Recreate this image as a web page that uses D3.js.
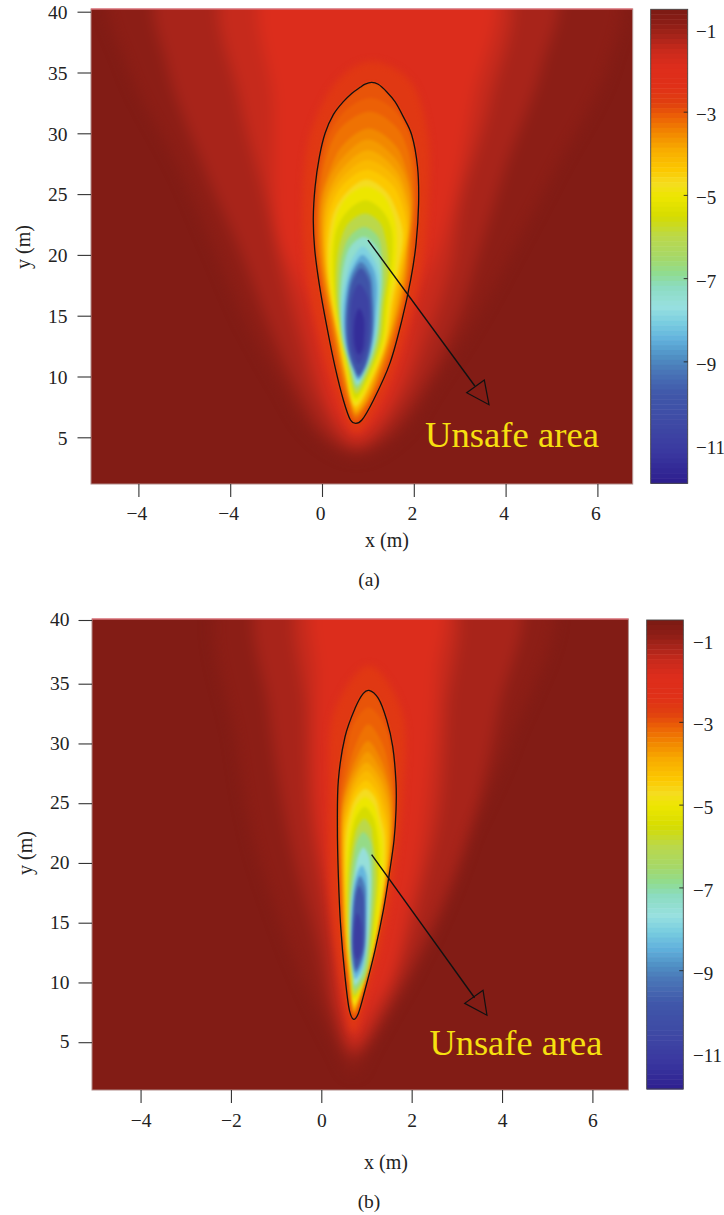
<!DOCTYPE html>
<html><head><meta charset="utf-8">
<script src="https://cdnjs.cloudflare.com/ajax/libs/d3/7.8.5/d3.min.js"></script>
<style>html,body{margin:0;padding:0;background:#fff}svg{display:block}text{font-family:"Liberation Serif",serif;fill:#222}</style>
</head><body><div id="chart"></div>
<script>
// Colour bar: value -> colour
const colorValues = [-0.54,-0.88,-1.2,-1.52,-1.92,-2.4,-2.8,-3.12,-3.52,-3.92,-4.4,-4.72,-5.04,-5.52,-6,-6.5,-6.89,-7.2,-7.69,-8.09,-8.49,-8.89,-9.2,-9.77,-10.57,-11.2,-11.85];
const colorHexes = ["#7b1a14","#8c1e16","#a8241a","#c82a1c","#dd2d1c","#e03018","#e0400f","#ec6006","#f28800","#f8ac00","#fcc800","#f5dc20","#ede600","#d6dc00","#bbd84a","#a6d868","#90dc90","#8cdcc0","#98e0e0","#78cce0","#60b0dc","#5090c4","#4a78b8","#4058aa","#3e48a4","#3a38a0","#2e2090"];
const backgroundValue = -0.68;
const boundaryValue = -3;
const colorbarTicks = [-1,-3,-5,-7,-9,-11];

const xTicks = [-4,-2,0,2,4,6];
const yTicks = [40,35,30,25,20,15,10,5];
const xLabelsA = ["\u22124","\u22124","0","2","4","6"];
const xLabelsB = ["\u22124","\u22122","0","2","4","6"];

// Contour bands: rows are [y, xLeft, xRight], tips are [y, x]
const levelsA = [-0.88,-1.2,-1.5,-1.9,-2.6,-3.12,-3.3,-3.52,-3.72,-3.92,-4.15,-4.4,-4.72,-5.04,-5.5,-6,-6.8,-7.4,-8,-8.6,-9.2,-10,-10.8,-11.5];
const bandsA = [
 [[42,-4.56,6.38],[35.48,-4.24,6.22],[27.25,-3.13,5.11],[20.4,-2.34,4.16],[14.92,-1.71,3.37],[9.44,-0.91,2.45],[5.32,-0.2,1.7],[3.4,0.75]],
 [[42,-3.53,5.03],[35.48,-3.37,4.79],[27.25,-2.58,4.0],[20.4,-1.79,3.44],[14.92,-1.23,2.97],[9.44,-0.6,2.26],[5.32,0.04,1.46],[3.95,0.75]],
 [[42,-2.1,4.0],[32.74,-1.79,3.68],[24.51,-1.23,3.05],[19.03,-0.91,2.81],[13.55,-0.52,2.33],[8.07,-0.04,1.7],[4.23,0.75]],
 [[42,-1.23,3.68],[32.74,-1.07,3.29],[21.77,-0.95,2.65],[16.29,-0.36,2.1],[10.81,-0.04,1.78],[6.69,0.27,1.31],[5.05,0.75]],
 [[35.9,1.07],[34.38,0.35,1.9],[30,-0.25,2.3],[24.51,-0.42,2.32],[19.03,-0.36,2.18],[13.55,-0.08,1.82],[8.61,0.31,1.35],[5.4,0.74]],
 [[32.9,1.06],[32,0.55,1.55],[30,0.17,1.9],[27.25,-0.03,2.03],[24.24,-0.11,2.05],[20.95,-0.13,1.98],[18.2,-0.03,1.9],[14.6,0.15,1.69],[11,0.34,1.42],[8,0.53,1.07],[6.4,0.73]],
 [[31.8,1.04],[30.5,0.42,1.62],[28.5,0.13,1.88],[25,-0.06,2.0],[21,-0.09,1.94],[18,0,1.86],[14.6,0.18,1.66],[11,0.37,1.38],[8,0.57,1.03],[6.6,0.73]],
 [[30.4,1.02],[29,0.45,1.6],[27,0.17,1.84],[24.5,-0.03,1.97],[21,-0.05,1.9],[18,0.04,1.82],[14.6,0.22,1.62],[11,0.4,1.33],[8,0.6,1.0],[6.8,0.73]],
 [[29.5,1.0],[28,0.45,1.58],[26,0.13,1.85],[24,0,1.94],[21,0,1.87],[18,0.07,1.79],[14.6,0.25,1.59],[11,0.43,1.3],[8,0.63,0.98],[6.95,0.73]],
 [[28.6,1.0],[27,0.42,1.6],[25,0.13,1.83],[23,0.03,1.92],[20,0.04,1.83],[17,0.14,1.7],[14,0.3,1.52],[11,0.46,1.27],[8.2,0.65,0.96],[7.1,0.73]],
 [[27.8,0.99],[26.4,0.45,1.58],[24.5,0.15,1.8],[22.5,0.06,1.88],[19.5,0.07,1.78],[16.5,0.18,1.62],[13.5,0.33,1.47],[10.8,0.48,1.23],[7.25,0.73]],
 [[27.0,0.98],[25.8,0.47,1.52],[24,0.2,1.75],[22,0.1,1.84],[19,0.1,1.72],[16,0.2,1.56],[13,0.36,1.42],[10.5,0.5,1.19],[7.45,0.73]],
 [[26.2,0.97],[25.2,0.55,1.4],[23.7,0.28,1.62],[21.8,0.16,1.76],[19,0.13,1.67],[16,0.23,1.51],[13,0.38,1.39],[10.5,0.51,1.16],[7.6,0.73]],
 [[25.6,0.97],[24.9,0.58,1.33],[23.5,0.34,1.53],[22,0.24,1.62],[19,0.16,1.6],[16,0.26,1.47],[13,0.41,1.36],[10.5,0.53,1.13],[7.85,0.73]],
 [[24.5,0.95],[23.7,0.58,1.3],[22.3,0.34,1.5],[20.4,0.25,1.54],[15.74,0.3,1.4],[13,0.43,1.32],[10.5,0.56,1.08],[8.2,0.73]],
 [[23.4,0.94],[22.7,0.6,1.25],[21.4,0.42,1.38],[19,0.31,1.45],[15.74,0.33,1.34],[13,0.46,1.27],[10.5,0.59,1.04],[8.6,0.75]],
 [[22.3,0.92],[21.5,0.6,1.22],[20,0.44,1.31],[17.66,0.37,1.34],[15.74,0.37,1.29],[13,0.43,1.21],[10.53,0.62,0.99],[9.02,0.75]],
 [[21.5,0.91],[20.7,0.62,1.18],[19.03,0.47,1.29],[15.74,0.4,1.26],[13,0.46,1.18],[10.81,0.62,0.99],[9.3,0.77]],
 [[20.7,0.89],[19.8,0.68,1.1],[18.48,0.55,1.24],[15.74,0.43,1.23],[13,0.48,1.15],[10.81,0.66,0.96],[9.57,0.77]],
 [[20.0,0.88],[19,0.68,1.1],[17.66,0.56,1.19],[14.92,0.48,1.16],[12.18,0.55,1.07],[10.6,0.68,0.94],[9.76,0.79]],
 [[19.4,0.85],[18.4,0.66,1.05],[16.5,0.55,1.11],[13.5,0.51,1.11],[11.5,0.6,1.0],[10.6,0.69,0.92],[9.9,0.79]],
 [[18.9,0.85],[18,0.68,1.02],[16.5,0.58,1.07],[14,0.54,1.09],[12,0.59,1.03],[10.8,0.69,0.93],[10.1,0.8]],
 [[17.6,0.81],[16.5,0.66,1.0],[14,0.62,1.02],[12.2,0.65,0.96],[11,0.8]],
 [[15.6,0.81],[14.8,0.72,0.91],[13,0.7,0.91],[12.2,0.74,0.88],[11.8,0.8]]
];
const levelsB = [-0.88,-1.2,-1.5,-1.9,-2.6,-3.12,-3.3,-3.52,-3.72,-3.92,-4.15,-4.4,-4.72,-5.04,-5.5,-6,-6.8,-7.6,-8.4,-9.2,-10,-11];
const bandsB = [
 [[42,-2.16,5.04],[30.01,-1.88,4.16],[21.64,-1.48,3.19],[16.07,-1.0,2.63],[10.49,-0.43,1.9],[4.91,0.29,1.1],[2.4,0.7]],
 [[42,-1.32,4.32],[32.8,-1.16,3.92],[24.43,-0.83,3.43],[18.86,-0.51,2.95],[13.28,-0.11,2.31],[7.7,0.21,1.5],[3.79,0.7]],
 [[42,-0.43,2.87],[32.8,-0.35,2.79],[24.43,-0.27,2.63],[18.86,-0.03,2.31],[13.28,0.21,1.9],[7.7,0.37,1.34],[4.35,0.71]],
 [[42,-0.11,2.63],[35.55,-0.11,2.55],[27.22,-0.11,2.39],[20.25,0.05,2.15],[16.07,0.21,1.9],[10.49,0.37,1.58],[7.7,0.45,1.1],[5.19,0.71]],
 [[36.4,1.06],[32.8,0.3,1.77],[25.83,0.18,1.81],[18.86,0.18,1.61],[13.28,0.3,1.33],[9.09,0.47,1.0],[5.8,0.71]],
 [[33.0,1.05],[31.5,0.7,1.4],[29,0.55,1.57],[26,0.42,1.62],[23,0.385,1.62],[19,0.41,1.49],[16,0.43,1.35],[12.7,0.5,1.17],[9.5,0.62,0.95],[7.2,0.725]],
 [[31.6,1.04],[30,0.77,1.35],[28,0.6,1.5],[25.5,0.45,1.6],[22,0.41,1.58],[19,0.43,1.47],[16,0.455,1.33],[12.7,0.52,1.15],[9.5,0.635,0.94],[7.35,0.725]],
 [[30.2,1.03],[28.8,0.78,1.3],[27,0.6,1.47],[25,0.47,1.57],[21.5,0.43,1.55],[18.5,0.45,1.44],[15,0.49,1.3],[12,0.56,1.13],[9.5,0.645,0.93],[7.5,0.725]],
 [[29.3,1.02],[28,0.78,1.28],[26.5,0.6,1.45],[24.5,0.47,1.54],[21,0.45,1.53],[18,0.47,1.42],[15,0.5,1.28],[12,0.57,1.11],[9.5,0.65,0.92],[7.6,0.725]],
 [[28.4,1.0],[27.2,0.75,1.28],[25.7,0.6,1.43],[24,0.49,1.52],[20.5,0.47,1.5],[17.5,0.49,1.39],[14.5,0.52,1.26],[11.5,0.59,1.08],[9.5,0.66,0.91],[7.7,0.725]],
 [[27.7,1.0],[26.7,0.76,1.24],[25.2,0.62,1.38],[23.5,0.51,1.48],[20,0.49,1.47],[17,0.51,1.37],[14,0.54,1.23],[11.5,0.6,1.06],[7.85,0.725]],
 [[26.9,0.99],[26,0.75,1.22],[24.6,0.62,1.35],[23,0.52,1.45],[19.5,0.51,1.44],[16.5,0.53,1.33],[13.5,0.56,1.2],[11,0.62,1.05],[8.0,0.725]],
 [[26.2,0.98],[25.4,0.76,1.2],[24,0.63,1.3],[22.3,0.55,1.4],[19,0.53,1.39],[16,0.55,1.3],[13,0.58,1.17],[11,0.63,1.03],[8.2,0.725]],
 [[25.5,0.97],[24.8,0.77,1.17],[23.5,0.66,1.27],[21.8,0.58,1.36],[18.5,0.55,1.34],[15.5,0.57,1.27],[12.5,0.6,1.13],[10.5,0.65,1.0],[8.35,0.725]],
 [[24.7,0.96],[23.9,0.78,1.14],[22.6,0.68,1.23],[20.24,0.6,1.285],[16.06,0.57,1.21],[11.87,0.64,1.06],[8.67,0.725]],
 [[23.7,0.95],[23,0.8,1.1],[21.92,0.72,1.14],[18.85,0.61,1.23],[14.67,0.6,1.14],[10.48,0.67,0.99],[8.95,0.73]],
 [[22.6,0.93],[21.9,0.8,1.08],[20.24,0.71,1.14],[17.45,0.64,1.14],[13.27,0.62,1.06],[10.48,0.695,0.95],[9.36,0.73]],
 [[21.3,0.93],[20.6,0.82,1.05],[19.2,0.74,1.1],[16.06,0.64,1.08],[12.43,0.65,1.0],[10.5,0.7,0.88],[9.78,0.74]],
 [[19.8,0.9],[19,0.78,1.0],[17.5,0.7,1.02],[14.67,0.66,1.0],[11.87,0.67,0.95],[10.8,0.71,0.86],[10.3,0.75]],
 [[18.9,0.86],[18,0.76,0.97],[16.5,0.71,0.98],[13.27,0.67,0.97],[11.6,0.7,0.88],[10.8,0.76]],
 [[18.1,0.84],[17.2,0.75,0.94],[15.4,0.7,0.96],[12.99,0.68,0.95],[11.8,0.72,0.87],[11.1,0.77]],
 [[15.8,0.8],[15,0.74,0.88],[13.5,0.71,0.9],[12.43,0.73,0.87],[11.9,0.79]]
];

// Black limit contour, as [x, y]
const boundaryA = [[1.083,34.19],[1.226,34.03],[1.408,33.42],[1.59,32.6],[1.77,31.37],[1.955,29.86],[2.081,27.25],[2.105,24.24],[2.05,20.95],[1.935,18.0],[1.741,14.64],[1.479,11.08],[1.123,8.07],[0.869,6.42],[0.734,6.15],[0.62,6.42],[0.465,8.07],[0.283,10.81],[0.1,14.2],[-0.06,17.6],[-0.16,20.5],[-0.19,23.0],[-0.15,25.6],[-0.06,28.0],[0.067,30.0],[0.25,31.55],[0.465,32.6],[0.647,33.28],[0.83,33.78],[0.94,34.05]];
const boundaryB = [[1.057,34.44],[1.263,33.77],[1.448,31.96],[1.581,29.73],[1.654,26.66],[1.654,24.43],[1.61,21.92],[1.507,19.13],[1.374,16.06],[1.19,12.71],[0.968,9.37],[0.82,7.41],[0.717,6.91],[0.621,7.69],[0.525,10.48],[0.429,14.67],[0.378,18.85],[0.356,23.03],[0.378,26.94],[0.525,30.56],[0.747,32.94],[0.93,34.19]];

// Arrow annotations as [x, y]
const arrowA = [[1.0,21.22],[3.33,9.22]];
const arrowHeadA = [[3.536,9.71],[3.153,8.67],[3.638,7.68]];
const arrowB = [[1.114,20.69],[3.392,8.72]];
const arrowHeadB = [[3.58,9.34],[3.174,8.25],[3.666,7.26]];

const W = 724, H = 1215;
const svg = d3.select('#chart').append('svg').attr('width', W).attr('height', H);
const defs = svg.append('defs');
function blur(id, s){
  defs.append('filter').attr('id', id).attr('filterUnits','userSpaceOnUse')
    .attr('x',0).attr('y',-50).attr('width',W).attr('height',H+100)
    .attr('color-interpolation-filters','sRGB')
    .append('feGaussianBlur').attr('stdDeviation', s);
}
blur('blurOuter', 7); blur('blurMid', 3.5); blur('blurInner', 1.5);

const colour = d3.scaleLinear().domain(colorValues).range(colorHexes).interpolate(d3.interpolateRgb);

const panels = [
 {id:'a', xs:d3.scaleLinear().domain([0,6]).range([322,597.4]),
  ys:d3.scaleLinear().domain([5,40]).range([437.3,11.7]),
  box:{l:91,r:632.7,t:9,b:484}, levels:levelsA, bands:bandsA, boundary:boundaryA, arrow:arrowA, head:arrowHeadA,
  xLabels:xLabelsA, unsafe:{x:425,y:447,w:174}, cap:'(a)', capPos:[369,586], xt:[387,547], yt:[24,247], ylabRight:10,
  cb:{l:650.7,r:687.7,t:9.3,b:483.3}, cbDomain:[-0.54,-11.93], cbLabelX:696, yDy:6.7, xPad:9.2, xDx:-2},
 {id:'b', xs:d3.scaleLinear().domain([0,6]).range([321.3,592.4]),
  ys:d3.scaleLinear().domain([1,35,40]).range([1090,683.7,620]),
  box:{l:92,r:628.4,t:619,b:1090}, levels:levelsB, bands:bandsB, boundary:boundaryB, arrow:arrowB, head:arrowHeadB,
  xLabels:xLabelsB, unsafe:{x:429.4,y:1055.3,w:173}, cap:'(b)', capPos:[369,1208], xt:[386,1169], yt:[26,853], ylabRight:9,
  cb:{l:646.7,r:683.3,t:620,b:1089}, cbDomain:[-0.54,-11.87], cbLabelX:693, yDy:5.6, xPad:10, xDx:0}
];

function rowsToRing(rows){
  const right = rows.map(r => r.length === 3 ? [r[2], r[0]] : [r[1], r[0]]);
  const left = rows.filter(r => r.length === 3).reverse().map(r => [r[1], r[0]]);
  return right.concat(left);
}

panels.forEach(p => {
  const g = svg.append('g').attr('class','panel-'+p.id);
  const b = p.box;
  const line = d3.line().x(d => p.xs(d[0])).y(d => p.ys(d[1])).curve(d3.curveCatmullRomClosed.alpha(0.5));
  const limitLine = d3.line().x(d => p.xs(d[0])).y(d => p.ys(d[1])).curve(d3.curveCatmullRomClosed.alpha(0.15));

  defs.append('clipPath').attr('id','clip-'+p.id).append('rect')
    .attr('x',b.l).attr('y',b.t).attr('width',b.r-b.l).attr('height',b.b-b.t);
  const plot = g.append('g').attr('clip-path','url(#clip-'+p.id+')');
  plot.append('rect').attr('x',b.l).attr('y',b.t).attr('width',b.r-b.l).attr('height',b.b-b.t)
    .attr('fill', colour(backgroundValue));

  const bandData = p.bands.map((rows,i) => ({z:p.levels[i], ring:rowsToRing(rows)}));
  const layer = (filter, items, gen) => plot.append('g').attr('filter','url(#'+filter+')').selectAll('path')
    .data(items).join('path').attr('d', d => gen(d.ring)).attr('fill', d => colour(d.z));
  layer('blurOuter', bandData.filter(d => d.z > -2.2), line);
  layer('blurMid', bandData.filter(d => d.z <= -2.2 && d.z > boundaryValue), line);
  layer('blurInner', [{z:boundaryValue, ring:p.boundary}].concat(bandData.filter(d => d.z < boundaryValue)), line);

  // plot frame as scanned
  g.append('rect').attr('x',b.l).attr('y',b.t).attr('width',b.r-b.l).attr('height',b.b-b.t)
    .attr('fill','none').attr('stroke','#b08a88').attr('stroke-width',1);
  g.append('line').attr('x1',b.l).attr('x2',b.r).attr('y1',b.t).attr('y2',b.t)
    .attr('stroke','#e8606c').attr('stroke-width',1);

  // limit contour and arrow
  g.append('path').attr('d', limitLine(p.boundary)).attr('fill','none').attr('stroke','#111').attr('stroke-width',1.3);
  const straight = d3.line().x(d => p.xs(d[0])).y(d => p.ys(d[1]));
  g.append('path').attr('d', straight(p.arrow)).attr('fill','none').attr('stroke','#111').attr('stroke-width',1.4);
  g.append('path').attr('d', straight(p.head)+'Z').attr('fill','none').attr('stroke','#111').attr('stroke-width',1.2);

  g.append('text').attr('x',p.unsafe.x).attr('y',p.unsafe.y).attr('textLength',p.unsafe.w)
    .attr('lengthAdjust','spacingAndGlyphs').style('font-size','36.5px').style('fill','#f6e010').text('Unsafe area');

  // axes
  const xAxis = d3.axisBottom(p.xs).tickValues(xTicks).tickSize(13).tickPadding(p.xPad)
    .tickFormat((d,i) => p.xLabels[i]);
  const gx = g.append('g').attr('transform','translate(0,'+b.b+')').call(xAxis);
  const yAxis = d3.axisLeft(p.ys).tickValues(yTicks).tickSize(13.5).tickPadding(p.ylabRight).tickFormat(d => d);
  const gy = g.append('g').attr('transform','translate('+b.l+',0)').call(yAxis);
  [gx,gy].forEach(a => {
    a.select('.domain').remove();
    a.selectAll('.tick line').attr('stroke','#333').attr('stroke-width',1.1);
    a.selectAll('.tick text').style('font-size','19.5px').style('font-family','"Liberation Serif",serif').style('fill','#222');
  });
  gx.selectAll('.tick text').attr('dx', p.xDx);
  gy.selectAll('.tick text').attr('dy', null).attr('y', p.yDy);

  g.append('text').attr('text-anchor','middle').attr('x',p.xt[0]).attr('y',p.xt[1]).style('font-size','20px').text('x (m)');
  g.append('text').attr('text-anchor','middle').attr('transform','translate('+(p.yt[0]+6)+','+p.yt[1]+') rotate(-90)').style('font-size','20px').text('y (m)');
  g.append('text').attr('text-anchor','middle').attr('x',p.capPos[0]).attr('y',p.capPos[1]).style('font-size','19.5px').text(p.cap);

  // colour bar
  const c = p.cb;
  const cy = d3.scaleLinear().domain(p.cbDomain).range([c.t,c.b]);
  const nSteps = 96;
  const steps = d3.range(nSteps).map(i => p.cbDomain[0] + (p.cbDomain[1]-p.cbDomain[0])*(i+0.5)/nSteps);
  const stepH = (c.b-c.t)/nSteps;
  g.append('g').selectAll('rect').data(steps).join('rect')
    .attr('x',c.l).attr('width',c.r-c.l).attr('y',d => cy(d)-stepH/2).attr('height',stepH+0.5)
    .attr('fill', d => colour(d));
  g.append('rect').attr('x',c.l).attr('y',c.t).attr('width',c.r-c.l).attr('height',c.b-c.t)
    .attr('fill','none').attr('stroke','#444').attr('stroke-width',0.9);
  const cAxis = d3.axisRight(cy).tickValues(colorbarTicks).tickSize(-4).tickFormat(d => '\u2212'+Math.abs(d));
  const gc = g.append('g').attr('transform','translate('+c.r+',0)').call(cAxis);
  gc.select('.domain').remove();
  gc.selectAll('.tick line').attr('stroke','#222').attr('stroke-opacity', d => (d===-1||d===-11)?0:0.9);
  gc.selectAll('.tick text').attr('x', p.cbLabelX-c.r).attr('dy',null).attr('y',9)
    .style('font-size','19px').style('font-family','"Liberation Serif",serif').style('fill','#222');
});
</script></body></html>
